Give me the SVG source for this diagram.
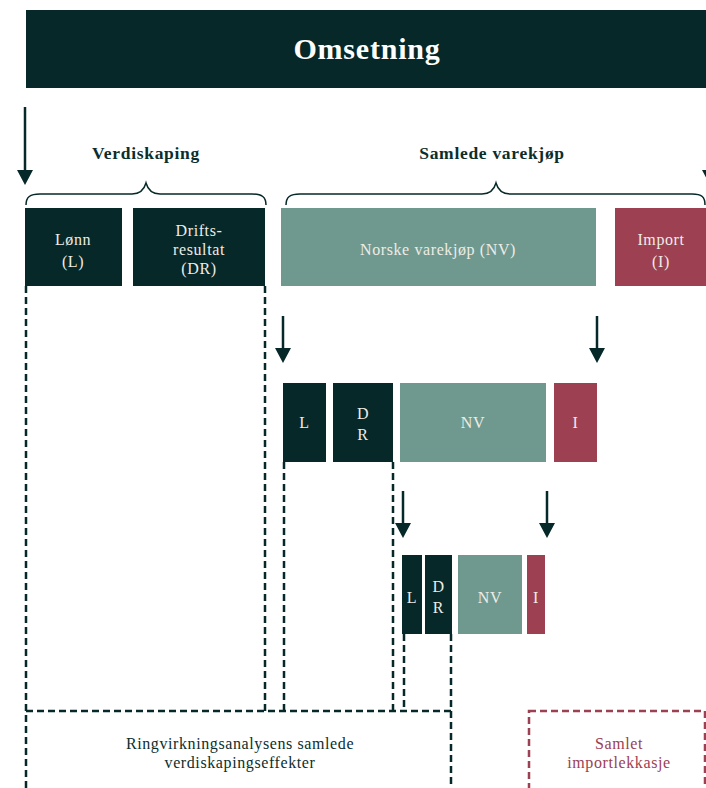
<svg xmlns="http://www.w3.org/2000/svg" width="706" height="788" viewBox="0 0 706 788">
<style>
.dark{fill:#062829}
.green{fill:#6f998e}
.red{fill:#9c4052}
.t{font-family:"Liberation Serif","DejaVu Serif",serif;font-size:16px;fill:#eeece6;text-anchor:middle;letter-spacing:0.6px}
.h{font-family:"Liberation Serif","DejaVu Serif",serif;font-size:17.5px;font-weight:bold;fill:#0b2e2d;text-anchor:middle;letter-spacing:0.7px}
.lbl{font-family:"Liberation Serif","DejaVu Serif",serif;font-size:16px;fill:#0b2e2d;text-anchor:middle;letter-spacing:0.6px}
.lblr{font-family:"Liberation Serif","DejaVu Serif",serif;font-size:16px;fill:#9c4052;text-anchor:middle;letter-spacing:0.6px}
.dash{stroke:#062829;stroke-width:2.5;stroke-dasharray:7 4;fill:none}
.dashr{stroke:#9c4052;stroke-width:2.5;stroke-dasharray:7 4;fill:none}
.arr{stroke:#062829;stroke-width:2.5;fill:none;marker-end:url(#ah)}
.brace{stroke:#062829;stroke-width:1.5;fill:none}
</style>
<defs>
<marker id="ah" markerUnits="userSpaceOnUse" viewBox="0 0 15 16" markerWidth="15" markerHeight="16" refX="0" refY="8" orient="auto">
<path d="M0,0 L15,8 L0,16 z" fill="#062829"/>
</marker>
</defs>
<rect width="706" height="788" fill="#ffffff"/>
<g id="omsetning">
<rect x="26" y="10" width="680" height="78" class="dark"/>
<text x="367" y="59" font-family="'Liberation Serif','DejaVu Serif',serif" font-size="30" font-weight="bold" fill="#ffffff" text-anchor="middle" letter-spacing="0.8">Omsetning</text>
</g>
<g id="connectors">
<line x1="25" y1="107" x2="25" y2="170" class="arr"/>
<line x1="710" y1="107" x2="710" y2="170" class="arr"/>
<line x1="283" y1="316" x2="283" y2="348" class="arr"/>
<line x1="597" y1="316" x2="597" y2="348" class="arr"/>
<line x1="403" y1="491" x2="403" y2="523" class="arr"/>
<line x1="547" y1="491" x2="547" y2="523" class="arr"/>
<path class="brace" d="M26,205 C26,197 30,194 40,194 L132,194 C140,194 144,190 146,183 C148,190 152,194 160,194 L252,194 C262,194 266,197 266,205"/>
<path class="brace" d="M286,205 C286,197 290,194 300,194 L482,194 C490,194 494,190 496,183 C498,190 502,194 510,194 L692,194 C702,194 705,197 705,205"/>
<line x1="26" y1="286" x2="26" y2="790" class="dash"/>
<line x1="265" y1="286" x2="265" y2="711" class="dash"/>
<line x1="284" y1="462" x2="284" y2="711" class="dash"/>
<line x1="393" y1="462" x2="393" y2="711" class="dash"/>
<line x1="404" y1="634" x2="404" y2="711" class="dash"/>
<line x1="451" y1="634" x2="451" y2="790" class="dash"/>
<line x1="26" y1="711" x2="451" y2="711" class="dash"/>
</g>
<g id="labels">
<text x="146" y="159" class="h">Verdiskaping</text>
<text x="492" y="159" class="h">Samlede varekjøp</text>
</g>
<g id="lonn">
<rect x="25" y="208" width="97" height="78" class="dark"/>
<text x="73" y="245" class="t">Lønn</text>
<text x="73" y="267" class="t">(L)</text>
</g>
<g id="driftsresultat">
<rect x="133" y="208" width="132" height="78" class="dark"/>
<text x="199" y="236" class="t">Drifts-</text>
<text x="199" y="255" class="t">resultat</text>
<text x="199" y="274" class="t">(DR)</text>
</g>
<g id="norske-varekjop">
<rect x="281" y="208" width="315" height="78" class="green"/>
<text x="438" y="255" class="t">Norske varekjøp (NV)</text>
</g>
<g id="import">
<rect x="615" y="208" width="91" height="78" class="red"/>
<text x="661" y="245" class="t">Import</text>
<text x="661" y="267" class="t">(I)</text>
</g>
<g id="l2">
<rect x="283" y="383" width="43" height="79" class="dark"/>
<text x="304.5" y="428" class="t">L</text>
</g>
<g id="dr2">
<rect x="333" y="383" width="60" height="79" class="dark"/>
<text x="363" y="419" class="t">D</text>
<text x="363" y="440" class="t">R</text>
</g>
<g id="nv2">
<rect x="400" y="383" width="146" height="79" class="green"/>
<text x="473" y="428" class="t">NV</text>
</g>
<g id="i2">
<rect x="554" y="383" width="43" height="79" class="red"/>
<text x="575.5" y="428" class="t">I</text>
</g>
<g id="l3">
<rect x="402" y="555" width="20" height="79" class="dark"/>
<text x="412" y="603" class="t">L</text>
</g>
<g id="dr3">
<rect x="425" y="555" width="27" height="79" class="dark"/>
<text x="438.5" y="592" class="t">D</text>
<text x="438.5" y="613" class="t">R</text>
</g>
<g id="nv3">
<rect x="458" y="555" width="64" height="79" class="green"/>
<text x="490" y="603" class="t">NV</text>
</g>
<g id="i3">
<rect x="527" y="555" width="18" height="79" class="red"/>
<text x="536" y="603" class="t">I</text>
</g>
<g id="verdiskapingseffekter">
<text x="240" y="749" class="lbl">Ringvirkningsanalysens samlede</text>
<text x="240" y="768" class="lbl">verdiskapingseffekter</text>
</g>
<g id="importlekkasje">
<rect x="529" y="711" width="176" height="100" class="dashr"/>
<text x="619" y="749" class="lblr">Samlet</text>
<text x="619" y="768" class="lblr">importlekkasje</text>
</g>
</svg>
